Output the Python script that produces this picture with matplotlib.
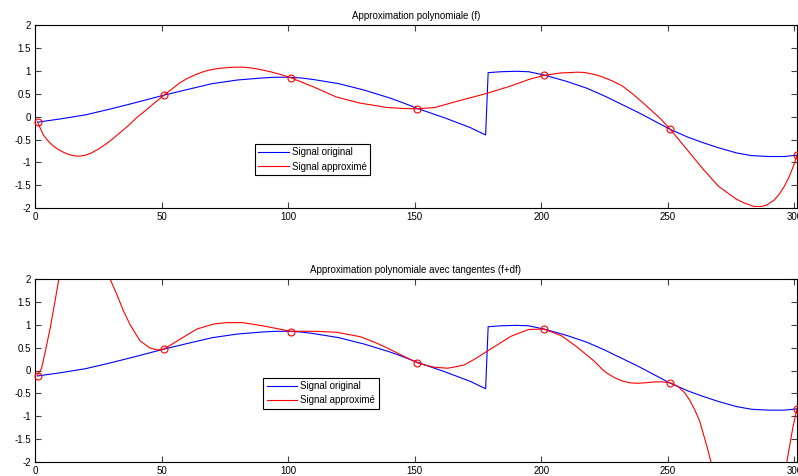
import matplotlib
matplotlib.use("Agg")
import matplotlib.pyplot as plt

plt.rcParams['font.family'] = ['Liberation Sans', 'DejaVu Sans']
plt.rcParams['axes.unicode_minus'] = False

# ---------------- data ----------------
titles = ["Approximation polynomiale (f)",
          "Approximation polynomiale avec tangentes (f+df)"]
legend_labels = ["Signal original", "Signal approximé"]

x_ticks = [0, 50, 100, 150, 200, 250, 300]
x_tick_labels = ["0", "50", "100", "150", "200", "250", "300"]
y_ticks = [-2, -1.5, -1, -0.5, 0, 0.5, 1, 1.5, 2]
y_tick_labels = ["-2", "-1.5", "-1", "-0.5", "0", "0.5", "1", "1.5", "2"]

# original signal (blue)
orig_x = [1, 10, 20, 30, 40, 51, 60, 70, 80, 90, 95, 100, 105, 110, 120, 130,
          140, 145, 151, 162, 172, 178, 179, 184, 190, 195, 201, 210, 218, 225,
          238, 251, 258, 264, 270, 277, 283, 290, 296, 301]
orig_y = [-0.12, -0.05, 0.04, 0.17, 0.31, 0.47, 0.59, 0.72, 0.80, 0.845, 0.86,
          0.86, 0.845, 0.81, 0.72, 0.58, 0.41, 0.31, 0.18, -0.03, -0.24, -0.40,
          0.96, 0.98, 0.99, 0.98, 0.91, 0.77, 0.62, 0.45, 0.10, -0.28, -0.45,
          -0.57, -0.68, -0.79, -0.85, -0.87, -0.87, -0.84]

# approximation (f) - top panel (red)
approx1_x = [1, 3.3, 5, 7, 9, 11, 13, 16, 18, 20, 22, 25, 28, 31, 34, 37, 40,
             44, 47, 51, 54, 57, 60, 64, 67, 70, 73, 76, 79, 82, 85, 88, 93,
             97, 101, 110, 119, 128, 139, 145, 151, 158, 167, 178, 188, 195,
             201, 207, 214, 217, 221, 224, 228, 232, 236, 240, 244, 247, 251,
             254, 258, 264, 270, 277, 280, 284, 287, 289, 292, 294, 296, 298,
             300, 301]
approx1_y = [-0.12, -0.40, -0.52, -0.63, -0.71, -0.77, -0.82, -0.86, -0.86,
             -0.84, -0.80, -0.71, -0.60, -0.47, -0.33, -0.19, -0.03, 0.15,
             0.29, 0.47, 0.60, 0.73, 0.83, 0.93, 0.99, 1.03, 1.055, 1.07, 1.08,
             1.08, 1.065, 1.04, 0.98, 0.92, 0.85, 0.65, 0.43, 0.30, 0.20, 0.18,
             0.17, 0.20, 0.34, 0.50, 0.67, 0.81, 0.90, 0.95, 0.97, 0.965, 0.92,
             0.87, 0.78, 0.67, 0.50, 0.31, 0.11, -0.04, -0.28, -0.48, -0.75,
             -1.15, -1.52, -1.80, -1.88, -1.96, -1.96, -1.93, -1.82, -1.69,
             -1.52, -1.30, -1.02, -0.84]

# approximation with tangents (f+df) - bottom panel (red)
approx2_x = [1, 2.6, 4, 6, 8, 9.4, 12, 20, 27, 29.7, 32.3, 35, 37.6, 41.5,
             45.5, 48.5, 51, 57.4, 64, 70.6, 76, 82, 90, 101, 110, 119, 128.6,
             135, 140, 145, 151, 154, 158, 163, 166, 169.5, 174, 178.8, 188,
             195, 201, 208, 214, 221, 224, 226, 229, 232, 235, 238, 241, 245,
             248, 251, 254, 256.5, 258.5, 260.5, 262.5, 264, 265.5, 267, 270,
             282, 295, 297, 299.4, 301]
approx2_y = [-0.11, 0.05, 0.40, 0.93, 1.55, 2.0, 2.7, 3.4, 2.4, 2.0, 1.67,
             1.30, 1.0, 0.65, 0.49, 0.45, 0.47, 0.69, 0.91, 1.02, 1.05, 1.05,
             0.98, 0.86, 0.86, 0.84, 0.74, 0.60, 0.47, 0.33, 0.17, 0.12, 0.07,
             0.05, 0.08, 0.12, 0.26, 0.43, 0.75, 0.90, 0.91, 0.76, 0.52, 0.20,
             0.03, -0.06, -0.16, -0.23, -0.27, -0.28, -0.27, -0.25, -0.25,
             -0.27, -0.35, -0.48, -0.64, -0.85, -1.10, -1.39, -1.68, -2.0,
             -2.6, -4.0, -2.7, -2.0, -1.24, -0.84]

# sample (interpolation) points
knots_x = [1, 51, 101, 151, 201, 251, 301]
knots_y = [-0.12, 0.47, 0.85, 0.17, 0.90, -0.28, -0.84]

# ---------------- figure ----------------
W, H = 798, 476
fig = plt.figure(figsize=(W / 100, H / 100), dpi=100, facecolor='white')

ax1 = fig.add_axes([35 / W, 1 - 208.3 / H, 762 / W, 183.3 / H])
ax2 = fig.add_axes([35 / W, 1 - 461.7 / H, 762 / W, 182.4 / H])

approx_sets = [(approx1_x, approx1_y), (approx2_x, approx2_y)]
legend_pos = [(255 / W, 1 - 144 / H), (263.3 / W, 1 - 377.7 / H)]

for ax, title, (ax_x, ax_y), lpos in zip([ax1, ax2], titles, approx_sets, legend_pos):
    l1, = ax.plot(orig_x, orig_y, color=(0, 0, 1), lw=0.8)
    l2, = ax.plot(ax_x, ax_y, color=(1, 0, 0), lw=0.8)
    ax.plot(knots_x, knots_y, linestyle='none', marker='o', markersize=5,
            markerfacecolor='none', markeredgecolor=(1, 0, 0),
            markeredgewidth=0.8, clip_on=False, zorder=5)
    ax.set_xlim(0, 301)
    ax.set_ylim(-2, 2)
    ax.set_xticks(x_ticks)
    ax.set_xticklabels(x_tick_labels)
    ax.set_yticks(y_ticks)
    ax.set_yticklabels(y_tick_labels)
    ax.tick_params(direction='in', length=4, width=0.8, top=True, right=True,
                   labelsize=7, pad=3, color='#404040')
    for sp in ax.spines.values():
        sp.set_linewidth(0.8)
        sp.set_color('black')
    ax.set_title(title, fontsize=7, pad=4.5)
    leg = ax.legend([l1, l2], legend_labels, loc='upper left',
                    bbox_to_anchor=lpos, bbox_transform=fig.transFigure,
                    borderaxespad=0, fontsize=7, fancybox=False, shadow=False,
                    framealpha=1, edgecolor='black', handlelength=3.1,
                    handletextpad=0.35, labelspacing=0.45, borderpad=0.35)
    leg.get_frame().set_linewidth(0.8)

fig.savefig("out.png", dpi=100, facecolor='white')
